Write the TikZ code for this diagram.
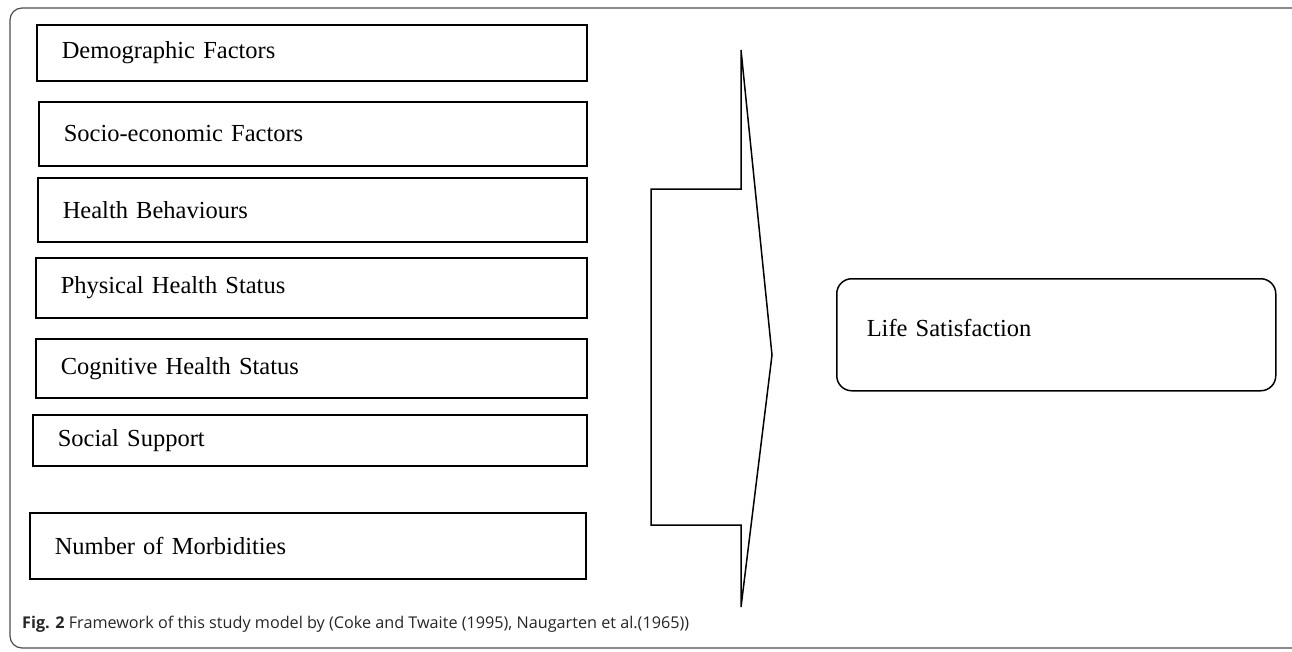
\documentclass[tikz,border=0pt]{standalone}
\usepackage{fontspec}
\setmainfont{Liberation Serif}
\newfontfamily\capfont{Open Sans}
\usepackage{tikz}
\usetikzlibrary{positioning}

\tikzset{
	factor/.style={draw, line width=1.5pt, anchor=north west, align=left, inner xsep=25pt, inner ysep=0pt, font=\fontsize{24.5}{28}\selectfont},
	outcome/.style={draw, line width=1.5pt, anchor=north west, align=left, rounded corners=15pt, inner xsep=30pt, inner ysep=0pt, font=\fontsize{24.5}{28}\selectfont}
}

\begin{document}
\begin{tikzpicture}[x=1pt,y=-1pt]
	\useasboundingbox (0,0) rectangle (1292,651);
	\draw[line width=1.2pt, black!70, rounded corners=12pt] (10,8) rectangle (1304,648);
	\node (demo) [factor, text width=500pt, minimum height=56pt] at (36,24) {Demographic Factors};
	\node (socio) [factor, text width=498pt, minimum height=64pt] at (38,101) {Socio-economic Factors};
	\node (behav) [factor, text width=499pt, minimum height=64pt] at (37,177) {Health Behaviours};
	\node (phys) [factor, text width=501pt, minimum height=60pt] at (35,257) {Physical Health Status};
	\node (cog) [factor, text width=501pt, minimum height=59pt] at (35,338) {Cognitive Health Status};
	\node (social) [factor, text width=504pt, minimum height=51pt] at (32,414) {Social Support};
	\node (morb) [factor, text width=506pt, minimum height=66pt] at (29,512) {Number of Morbidities};
	\draw[line width=1.5pt] (741,50) -- (741,189) -- (651,189) -- (651,525) -- (741,525) -- (741,607) -- (772,355) -- cycle;
	\node (life) [outcome, text width=379pt, text height=58pt, text depth=54pt] at (836,278) {Life Satisfaction};
	\node (cap) [anchor=base west, inner sep=0pt, black!85, font=\capfont\fontsize{16.2}{18}\selectfont] at (22,628) {\textbf{Fig. 2} Framework of this study model by (Coke and Twaite (1995), Naugarten et al.(1965))};
\end{tikzpicture}
\end{document}
